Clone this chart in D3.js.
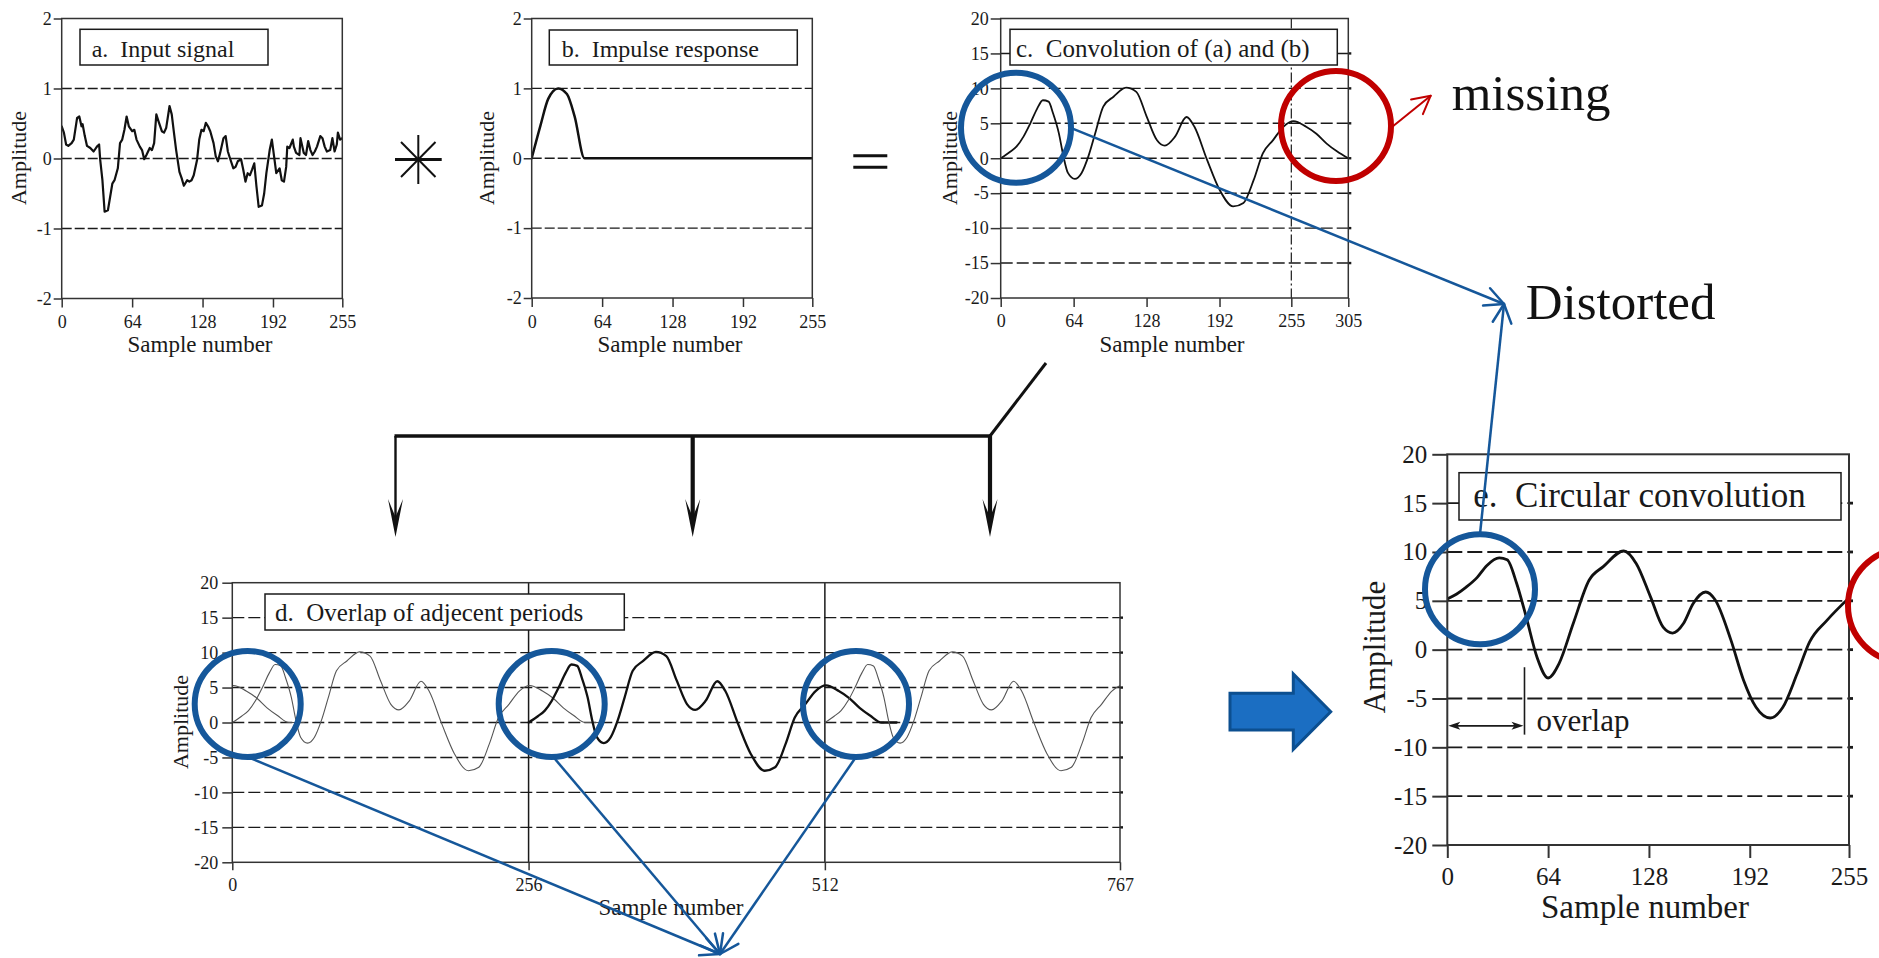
<!DOCTYPE html>
<html>
<head>
<meta charset="utf-8">
<script src="https://cdn.jsdelivr.net/npm/d3@7"></script>
<style>
  body { margin: 0; background: #fff; }
  svg { display: block; font-family: "Liberation Serif", "Times New Roman", serif; }
  text.keep { white-space: pre; }
</style>
</head>
<body>
<svg id="fig" width="1879" height="958"></svg>
<script>
// ---- data ----
var xTicksAB = [0, 64, 128, 192, 255];
var xTicksC = [0, 64, 128, 192, 255, 305];
var xTicksD = [0, 256, 512, 767];
var yTicksAB = [-2, -1, 0, 1, 2];
var yTicksCDE = [-20, -15, -10, -5, 0, 5, 10, 15, 20];

// a. input signal
var inputN = [0,2,4,6,9,11,14,16,18,19,
  21,23,26,29,32,34,35,37,39,42,
  44,46,48,51,53,55,57,59,61,64,
  66,68,71,73,75,77,80,82,84,86,
  88,91,93,95,98,100,102,104,107,109,
  111,114,116,118,120,123,125,127,129,131,
  133,135,138,140,142,144,147,149,151,153,
  156,158,160,163,165,167,169,171,173,175,
  177,179,182,184,186,189,191,193,195,198,
  200,202,204,205,207,210,211,213,216,217,
  220,222,224,226,228,230,232,235,237,239,
  241,244,246,248,250,251,253,255];
var inputV = [0.46,0.37,0.20,0.18,0.22,0.27,0.58,0.60,0.46,0.49,
  0.32,0.18,0.15,0.10,0.17,0.20,-0.02,-0.31,-0.76,-0.74,
  -0.55,-0.36,-0.31,-0.14,0.22,0.27,0.41,0.60,0.46,0.39,
  0.41,0.27,0.17,0.12,-0.01,0.05,0.15,0.12,0.22,0.63,
  0.53,0.39,0.37,0.44,0.75,0.63,0.37,0.12,-0.19,-0.28,
  -0.39,-0.31,-0.33,-0.31,-0.24,-0.02,0.27,0.41,0.39,0.51,
  0.46,0.39,0.22,0.03,-0.04,0.08,0.29,0.32,0.10,0.00,
  -0.14,-0.12,-0.04,-0.01,-0.16,-0.33,-0.21,-0.24,-0.16,-0.07,
  -0.40,-0.69,-0.67,-0.50,-0.21,0.12,0.27,0.03,-0.21,-0.14,
  -0.31,-0.33,-0.12,0.17,0.15,0.27,0.17,0.08,0.05,0.29,
  0.08,0.05,0.25,0.12,0.05,0.10,0.17,0.32,0.29,0.17,
  0.10,0.12,0.29,0.10,0.20,0.37,0.27,0.29];

// b. impulse response
var impulseN = [0, 8, 15, 24, 32, 39, 48, 255];
var impulseV = [0, 0.47, 0.85, 1.0, 0.92, 0.6, 0, 0];

// c. linear convolution (306 points)
var convN = [0, 8, 14, 20, 26, 32, 37, 42, 46, 51, 55, 59, 65, 71, 77, 83, 90, 99,
  110, 119, 128, 137, 144, 153, 163, 170, 181, 192, 204, 213, 222, 230, 239, 248,
  257, 268, 277, 286, 295, 305];
var convV = [0, 0.9, 1.7, 3.1, 5.0, 7.1, 8.3, 8.1, 6.4, 3.6, 0.3, -2.1, -2.95, -2.1, 0.3, 3.6, 7.4, 8.8,
  10.1, 9.5, 6.0, 2.6, 1.8, 3.1, 5.9, 4.5, -0.2, -4.5, -6.9, -6.4, -3.1, 0.7, 2.6, 4.5,
  5.3, 4.5, 3.5, 2.1, 1.0, 0];
var convMark = 255;

// d. periods of the convolution placed every 256 samples
var periodStarts = [-256, 0, 256, 512];
var thickPeriod = 256;
var dividers = [256, 512];
var tailEnd = 318;

// e. circular convolution
var circN = [0, 6, 12, 19, 25, 33, 38, 44, 50, 57, 64, 71, 80, 90, 99, 112, 120, 129,
  137, 143, 150, 156, 164, 170, 180, 188, 196, 205, 213, 222, 230, 241, 255];
var circV = [5.2, 5.7, 6.4, 7.4, 8.6, 9.4, 9.2, 6.8, 3.4, -0.8, -2.9, -1.4, 2.7, 7.1, 8.5, 10.1, 8.8, 5.4,
  2.3, 1.7, 2.7, 4.7, 5.9, 5.1, 1.0, -3.1, -5.9, -7.0, -5.9, -2.5, 0.8, 3.0, 5.3];
var overlapEnd = 49;

var blue = "#15579a", red = "#c00000", ink = "#1a1a1a";
var svg = d3.select("#fig");

function pts(n, v) { return n.map(function (s, i) { return [s, v[i]]; }); }

function drawPanel(P) {
  var g = svg.append("g");
  var x = P.x = d3.scaleLinear().domain(P.xDomain).range([P.left, P.right]);
  var y = P.y = d3.scaleLinear().domain(P.yDomain).range([P.bottom, P.top]);
  var inner = P.yTicks.filter(function (v) { return v > P.yDomain[0] && v < P.yDomain[1]; });

  g.selectAll("line.grid").data(inner).join("line").attr("class", "grid")
    .attr("x1", P.left).attr("x2", P.right)
    .attr("y1", function (d) { return y(d); }).attr("y2", function (d) { return y(d); })
    .attr("stroke", ink).attr("stroke-width", P.gridWidth)
    .attr("stroke-dasharray", P.dash);

  if (P.rightTick) {
    g.selectAll("line.rt").data(inner).join("line").attr("class", "rt")
      .attr("x1", P.right).attr("x2", P.right + P.rightTick)
      .attr("y1", function (d) { return y(d); }).attr("y2", function (d) { return y(d); })
      .attr("stroke", ink).attr("stroke-width", P.gridWidth + 1);
  }

  var clipId = "clip-" + P.id;
  svg.append("clipPath").attr("id", clipId).append("rect")
    .attr("x", P.left).attr("y", P.top)
    .attr("width", P.right - P.left).attr("height", P.bottom - P.top);
  var layer = g.append("g").attr("clip-path", "url(#" + clipId + ")");
  P.draw(layer, x, y);

  if (P.title) {
    g.append("rect").attr("x", P.box[0]).attr("y", P.box[1])
      .attr("width", P.box[2]).attr("height", P.box[3])
      .attr("fill", "#fff").attr("stroke", ink).attr("stroke-width", 1.5);
    g.append("text").attr("class", "keep").attr("xml:space", "preserve")
      .attr("x", P.titlePos[0]).attr("y", P.titlePos[1])
      .attr("font-size", P.titleFont).attr("fill", ink).text(P.title);
  }

  g.append("rect").attr("x", P.left).attr("y", P.top)
    .attr("width", P.right - P.left).attr("height", P.bottom - P.top)
    .attr("fill", "none").attr("stroke", "#333").attr("stroke-width", P.frameWidth);

  var ya = g.append("g").attr("transform", "translate(" + P.left + ",0)")
    .call(d3.axisLeft(y).tickValues(P.yTicks).tickSize(P.tickY).tickPadding(P.padY)
      .tickFormat(function (d) { return String(d); }));
  var xa = g.append("g").attr("transform", "translate(0," + P.bottom + ")")
    .call(d3.axisBottom(x).tickValues(P.xTicks).tickSize(P.tickX).tickPadding(P.padX)
      .tickFormat(function (d) { return String(d); }));
  [ya, xa].forEach(function (a) {
    a.select(".domain").remove();
    a.attr("font-family", null).attr("font-size", P.tickFont);
    a.selectAll("line").attr("stroke", "#333").attr("stroke-width", P.frameWidth);
    a.selectAll("text").attr("fill", ink);
  });

  g.append("text").attr("x", P.xLabel[0]).attr("y", P.xLabel[1])
    .attr("text-anchor", "middle").attr("font-size", P.xLabelFont).attr("fill", ink)
    .text("Sample number");
  g.append("text")
    .attr("transform", "translate(" + P.yLabel[0] + "," + P.yLabel[1] + ") rotate(-90)")
    .attr("text-anchor", "middle").attr("font-size", P.yLabelFont).attr("fill", ink)
    .text("Amplitude");
  return P;
}

function path(layer, data, x, y, curve, width, color) {
  var line = d3.line()
    .x(function (d) { return x(d[0]); })
    .y(function (d) { return y(d[1]); })
    .curve(curve);
  return layer.append("path").datum(data).attr("d", line)
    .attr("fill", "none").attr("stroke", color).attr("stroke-width", width)
    .attr("stroke-linejoin", "round").attr("stroke-linecap", "round");
}

// a
var pa = drawPanel({
  id: "a", left: 61.7, right: 342.3, top: 18.5, bottom: 298.5,
  xDomain: [0, 255], yDomain: [-2, 2], xTicks: xTicksAB, yTicks: yTicksAB,
  tickY: 8, padY: 2, tickX: 9, padX: 8, tickFont: 18,
  dash: "10,3", gridWidth: 1.4, frameWidth: 1.5,
  title: "a.  Input signal", box: [80, 29.3, 188, 35.7], titlePos: [91.7, 56.7], titleFont: 24,
  xLabel: [200, 352], xLabelFont: 23, yLabel: [26, 158], yLabelFont: 22,
  draw: function (l, x, y) { path(l, pts(inputN, inputV), x, y, d3.curveLinear, 2.2, "#111"); }
});

// b
var pb = drawPanel({
  id: "b", left: 531.7, right: 812.3, top: 18.5, bottom: 298,
  xDomain: [0, 255], yDomain: [-2, 2], xTicks: xTicksAB, yTicks: yTicksAB,
  tickY: 8, padY: 2, tickX: 9, padX: 8, tickFont: 18,
  dash: "10,3", gridWidth: 1.4, frameWidth: 1.5,
  title: "b.  Impulse response", box: [549.3, 30, 248, 35], titlePos: [561.7, 56.7], titleFont: 24,
  xLabel: [670, 352], xLabelFont: 23, yLabel: [494, 158], yLabelFont: 22,
  draw: function (l, x, y) { path(l, pts(impulseN, impulseV), x, y, d3.curveMonotoneX, 2.5, "#111"); }
});

// c
var pc = drawPanel({
  id: "c", left: 1000.7, right: 1348.3, top: 18.5, bottom: 298,
  xDomain: [0, 305], yDomain: [-20, 20], xTicks: xTicksC, yTicks: yTicksCDE,
  tickY: 10, padY: 2, tickX: 9, padX: 7, tickFont: 18, rightTick: 3,
  dash: "12,4", gridWidth: 1.4, frameWidth: 1.5,
  title: "c.  Convolution of (a) and (b)", box: [1010, 29.3, 327.3, 35.7], titlePos: [1016, 57], titleFont: 25,
  xLabel: [1172, 352], xLabelFont: 23, yLabel: [957, 158], yLabelFont: 22,
  draw: function (l, x, y) {
    l.append("line").attr("x1", x(convMark)).attr("x2", x(convMark))
      .attr("y1", y(20)).attr("y2", y(-20))
      .attr("stroke", ink).attr("stroke-width", 1.2).attr("stroke-dasharray", "10,3,2,3");
    path(l, pts(convN, convV), x, y, d3.curveMonotoneX, 1.8, "#111");
  }
});

// d
var pd = drawPanel({
  id: "d", left: 232.3, right: 1120, top: 582.7, bottom: 862.3,
  xDomain: [0, 767], yDomain: [-20, 20], xTicks: xTicksD, yTicks: yTicksCDE,
  tickY: 10, padY: 4, tickX: 8, padX: 8, tickFont: 18, rightTick: 3,
  dash: "12,4", gridWidth: 1.4, frameWidth: 1.5,
  title: "d.  Overlap of adjecent periods", box: [265, 594, 359.3, 36], titlePos: [275, 621], titleFont: 25,
  xLabel: [671, 915], xLabelFont: 23, yLabel: [188, 722], yLabelFont: 22,
  draw: function (l, x, y) {
    l.selectAll("line.div").data(dividers).join("line").attr("class", "div")
      .attr("x1", function (d) { return x(d); }).attr("x2", function (d) { return x(d); })
      .attr("y1", y(20)).attr("y2", y(-20))
      .attr("stroke", ink).attr("stroke-width", 1.5);
    var base = pts(convN, convV).concat([[tailEnd, 0]]);
    periodStarts.forEach(function (s0) {
      var shifted = base.map(function (p) { return [p[0] + s0, p[1]]; });
      var thick = s0 === thickPeriod;
      path(l, shifted, x, y, d3.curveMonotoneX, thick ? 2.3 : 1.1, thick ? "#111" : "#555");
    });
  }
});

// e
var pe = drawPanel({
  id: "e", left: 1447.3, right: 1849, top: 454.3, bottom: 845,
  xDomain: [0, 255], yDomain: [-20, 20], xTicks: xTicksAB, yTicks: yTicksCDE,
  tickY: 15, padY: 5, tickX: 13, padX: 9, tickFont: 25, rightTick: 4,
  dash: "15,5", gridWidth: 1.8, frameWidth: 2,
  title: "e.  Circular convolution", box: [1459, 472.7, 382, 47.3], titlePos: [1473.3, 507.3], titleFont: 35,
  xLabel: [1645, 918], xLabelFont: 33, yLabel: [1385, 647], yLabelFont: 31,
  draw: function (l, x, y) { path(l, pts(circN, circV), x, y, d3.curveMonotoneX, 2.8, "#111"); }
});

// overlap marker in e
(function () {
  var x = pe.x, y = pe.y, g = svg.append("g");
  g.append("line").attr("x1", x(overlapEnd)).attr("x2", x(overlapEnd))
    .attr("y1", y(-1.8)).attr("y2", y(-8.7)).attr("stroke", ink).attr("stroke-width", 1.6);
  var ay = y(-7.8), xa = x(0) + 1, xb = x(overlapEnd) - 1;
  g.append("line").attr("x1", xa + 6).attr("x2", xb - 6).attr("y1", ay).attr("y2", ay)
    .attr("stroke", ink).attr("stroke-width", 1.8);
  g.append("path").attr("d", "M" + xa + "," + ay + "l12,-4l-3,4l3,4z").attr("fill", ink);
  g.append("path").attr("d", "M" + xb + "," + ay + "l-12,-4l3,4l-3,4z").attr("fill", ink);
  g.append("text").attr("x", x(overlapEnd) + 12).attr("y", y(-8.35))
    .attr("font-size", 31).attr("fill", ink).text("overlap");
})();

// ---- operators and connectors ----
var ops = svg.append("g").attr("stroke", "#111").attr("stroke-linecap", "butt");
// convolution star
[[395, 159.5, 441.7, 159.5, 3], [418.3, 135, 418.3, 184, 2],
 [401, 142, 435.5, 177, 2], [435.5, 142, 401, 177, 2]].forEach(function (s) {
  ops.append("line").attr("x1", s[0]).attr("y1", s[1]).attr("x2", s[2]).attr("y2", s[3])
    .attr("stroke-width", s[4]);
});
// equals sign
[155.7, 167.3].forEach(function (yy) {
  ops.append("line").attr("x1", 853.3).attr("x2", 887.3).attr("y1", yy).attr("y2", yy)
    .attr("stroke-width", 3);
});
// bracket from (c) down to the three copies
var barY = 436, tipY = 537;
ops.append("line").attr("x1", 1046).attr("y1", 363).attr("x2", 990).attr("y2", barY)
  .attr("stroke-width", 3);
ops.append("line").attr("x1", 394.5).attr("y1", barY).attr("x2", 991.5).attr("y2", barY)
  .attr("stroke-width", 3.5);
[[395.5, 2.4], [692.7, 4.2], [990, 4.2]].forEach(function (a) {
  ops.append("line").attr("x1", a[0]).attr("x2", a[0]).attr("y1", barY).attr("y2", tipY - 20)
    .attr("stroke-width", a[1]);
  ops.append("path").attr("stroke", "none").attr("fill", "#111")
    .attr("d", "M" + (a[0] - 7.5) + "," + (tipY - 38) + " L" + a[0] + "," + (tipY - 20) +
      " L" + (a[0] + 7.5) + "," + (tipY - 38) + " L" + a[0] + "," + tipY + " Z");
});

// big blue block arrow between (d) and (e)
svg.append("path")
  .attr("d", "M1230,693.3 L1293.3,693.3 L1293.3,674 L1330.7,711.7 L1293.3,749.3 L1293.3,730 L1230,730 Z")
  .attr("fill", "#1b6ec2").attr("stroke", "#0c4f90").attr("stroke-width", 3)
  .attr("stroke-linejoin", "miter");

// ---- annotation rings and arrows ----
var ann = svg.append("g").attr("fill", "none");

function ring(cx, cy, r, color) {
  ann.append("circle").attr("cx", cx).attr("cy", cy).attr("r", r)
    .attr("stroke", color).attr("stroke-width", 6);
}
function arrow(from, tip, color, width, len, spread) {
  ann.append("line").attr("x1", from[0]).attr("y1", from[1]).attr("x2", tip[0]).attr("y2", tip[1])
    .attr("stroke", color).attr("stroke-width", width);
  var a = Math.atan2(tip[1] - from[1], tip[0] - from[0]);
  [a + Math.PI - spread, a + Math.PI + spread].forEach(function (t) {
    ann.append("line").attr("x1", tip[0]).attr("y1", tip[1])
      .attr("x2", tip[0] + len * Math.cos(t)).attr("y2", tip[1] + len * Math.sin(t))
      .attr("stroke", color).attr("stroke-width", width).attr("stroke-linecap", "round");
  });
}

ring(1016, 127.7, 55, blue);
ring(1336, 126, 55, red);
ring(1480, 589.3, 55, blue);
ring(1905, 605.5, 57, red);
ring(247.7, 704, 53, blue);
ring(551.7, 704, 53, blue);
ring(856, 704, 53, blue);

var distortedTip = [1504, 304];
arrow([1072, 128.3], distortedTip, blue, 2.5, 21, 0.46);
arrow([1480, 534], distortedTip, blue, 2.5, 21, 0.46);

var bottomTip = [720, 954];
arrow([247.7, 757], bottomTip, blue, 2.5, 21, 0.46);
arrow([553.3, 757], bottomTip, blue, 2.5, 21, 0.46);
arrow([856, 757], bottomTip, blue, 2.5, 21, 0.46);

arrow([1392, 127], [1430.7, 95.7], red, 2, 20, 0.49);

svg.append("text").attr("x", 1451.7).attr("y", 110).attr("font-size", 51).attr("fill", "#111")
  .text("missing");
svg.append("text").attr("x", 1525.7).attr("y", 319.3).attr("font-size", 51).attr("fill", "#111")
  .text("Distorted");
</script>
</body>
</html>
